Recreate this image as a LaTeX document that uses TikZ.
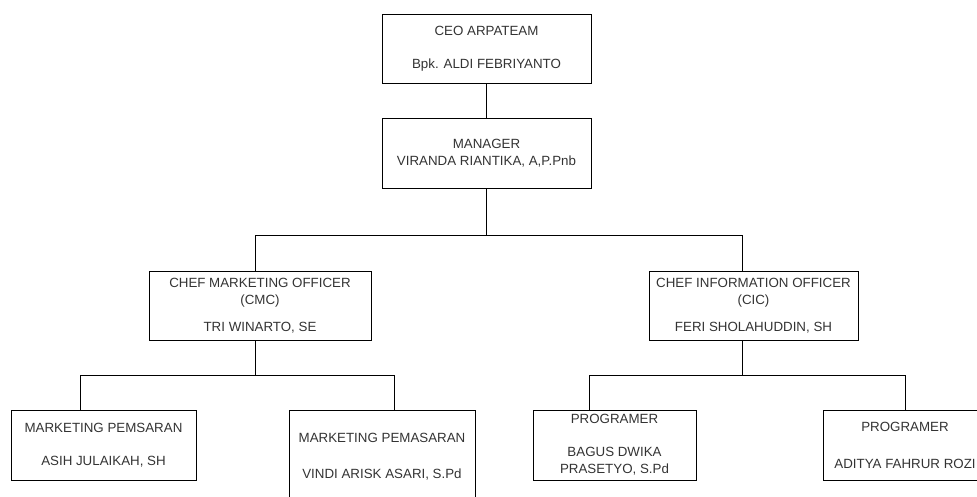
\documentclass[tikz,border=0pt]{standalone}
\usepackage{fontspec}
\setmainfont{Liberation Sans}
\begin{document}
\begin{tikzpicture}[x=0.75pt, y=-0.75pt,
    jabatan/.style={draw, rectangle, line width=0.75pt, align=center, inner sep=0pt, text=black!80, font=\fontsize{10}{12.75}\selectfont},
    garis/.style={line width=0.75pt}]
    \useasboundingbox (0,0) rectangle (977,496);

    \node (ceo) at (486.5,48.5) [jabatan, minimum width=156.75pt, minimum height=51.75pt] {CEO ARPATEAM\\[12pt] Bpk. ALDI FEBRIYANTO};
    \node (manager) at (486.5,153) [jabatan, minimum width=156.75pt, minimum height=52.5pt] {MANAGER\\ VIRANDA RIANTIKA, A,P.Pnb};

    \node (cmc) at (260,305.5) [jabatan, minimum width=166.5pt, minimum height=51.75pt] {CHEF MARKETING OFFICER\\ (CMC)\\[7.5pt] TRI WINARTO, SE};
    \node (cic) at (753.5,305.5) [jabatan, minimum width=156.75pt, minimum height=51.75pt] {CHEF INFORMATION OFFICER\\ (CIC)\\[7.5pt] FERI SHOLAHUDDIN, SH};

    \node (pemasaran1) at (103.5,445) [jabatan, minimum width=138.75pt, minimum height=52.5pt] {MARKETING PEMSARAN\\[12pt] ASIH JULAIKAH, SH};
    \node (pemasaran2) at (382,457) [jabatan, minimum width=139.5pt, minimum height=70.5pt] {MARKETING PEMASARAN\\[14pt] VINDI ARISK ASARI, S.Pd};
    \node (programer1) at (614.5,445) [jabatan, minimum width=122.25pt, minimum height=52.5pt] {PROGRAMER\\[12pt] BAGUS DWIKA\\ PRASETYO, S.Pd};
    \node (programer2) at (905,445) [jabatan, minimum width=123pt, minimum height=52.5pt] {PROGRAMER\\[15pt] ADITYA FAHRUR ROZI};

    % garis struktur
    \draw [garis] (ceo) -- (manager);
    \draw [garis] (manager.south) -- ++(0,47) coordinate (cabang);
    \draw [garis] (cabang) -| ([xshift=-3.75pt]cmc.north);
    \draw [garis] (cabang) -| ([xshift=-8.6pt]cic.north);

    \draw [garis] ([xshift=-3.75pt]cmc.south) -- ++(0,35) coordinate (cabangkiri);
    \draw [garis] (cabangkiri) -| ([xshift=-17.6pt]pemasaran1.north);
    \draw [garis] (cabangkiri) -| ([xshift=9pt]pemasaran2.north);

    \draw [garis] ([xshift=-8.6pt]cic.south) -- ++(0,35) coordinate (cabangkanan);
    \draw [garis] (cabangkanan) -| ([xshift=-18.4pt]programer1.north);
    \draw [garis] (cabangkanan) -| (programer2.north);
\end{tikzpicture}
\end{document}
